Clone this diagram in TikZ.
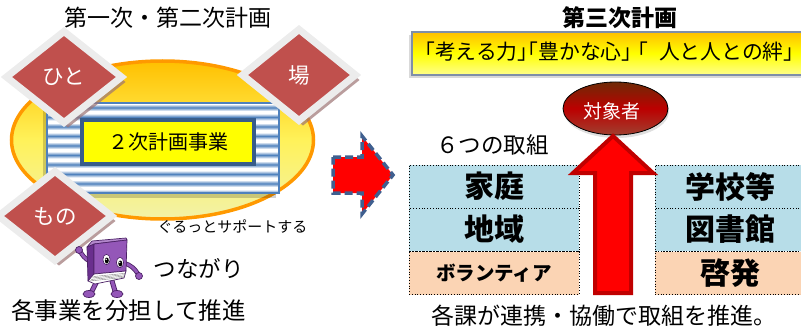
\documentclass[tikz,border=0pt]{standalone}
\usepackage{fontspec}
\setmainfont{Noto Sans CJK JP}
\usetikzlibrary{shapes.geometric,shadows}

\definecolor{gemred}{HTML}{C0504D}
\definecolor{gemrim}{HTML}{ECECEC}
\definecolor{gemshade}{HTML}{9C7474}
\definecolor{ringorange}{HTML}{FF9900}
\definecolor{goldtop}{HTML}{FFC000}
\definecolor{sunmid}{HTML}{FFF25A}
\definecolor{palebottom}{HTML}{F2F2A8}
\definecolor{stripeblue}{HTML}{4F81BD}
\definecolor{boxblue}{HTML}{385D8A}
\definecolor{pureyellow}{HTML}{FFFF00}
\definecolor{arrowred}{HTML}{FF0000}
\definecolor{arrowrim}{HTML}{C00000}
\definecolor{dashblue}{HTML}{3F5F8F}
\definecolor{rowblue}{HTML}{B7DDE8}
\definecolor{rowpeach}{HTML}{FBD4B4}
\definecolor{bannerrim}{HTML}{7F8FA9}
\definecolor{ovaltop}{HTML}{6E2A06}
\definecolor{ovalmid}{HTML}{BC0000}
\definecolor{ovalbottom}{HTML}{A04030}
\definecolor{bookpurple}{HTML}{9457B8}
\definecolor{bookdark}{HTML}{6A2F8E}
\definecolor{bookline}{HTML}{4B2165}

\begin{document}
\begin{tikzpicture}[x=1pt,y=-1pt,
  gem/.style={diamond, draw=gemrim, line width=7pt, fill=gemred, inner sep=0pt,
    text=white, font=\fontsize{21.5pt}{21.5pt}\selectfont,
    drop shadow={shadow xshift=4pt, shadow yshift=-5pt, fill=gemshade, opacity=0.7}},
  label/.style={inner sep=0pt, text=black},
  cell/.style={draw=black, dotted, line width=0.8pt, inner sep=0pt,
    minimum height=43pt, text=black},
  bigcell/.style={cell, font=\bfseries\fontsize{30pt}{30pt}\selectfont},
  leftcell/.style={minimum width=170pt},
  rightcell/.style={minimum width=150pt},
]
\useasboundingbox (0,0) rectangle (801,329);
\clip (0,0) rectangle (801,329);

% ---- first and second plan ----
\node[label, font=\fontsize{23pt}{23pt}\selectfont] (oldplans) at (167.5,18) {第一次・第二次計画};

% yellow ring
\path[draw=ringorange, line width=3.5pt, top color=goldtop, bottom color=palebottom,
      middle color=sunmid] (162.5,140) ellipse [x radius=151, y radius=79];

% striped panel
\fill[black, opacity=0.18] (43,107) rectangle (276,198);
\fill[white] (47,103) rectangle (279,193);
\begin{scope}
  \clip (47,103) rectangle (279,193);
  \foreach \k in {0,...,9} {
    \shade[top color=white, bottom color=white, middle color=stripeblue]
      (47,{103+\k*9.5+1}) rectangle (279,{103+\k*9.5+8});
  }
\end{scope}
\node[draw=stripeblue, line width=2pt, minimum width=232pt, minimum height=90pt,
      inner sep=0pt] (panel) at (163,148) {};

% project box
\node[draw=boxblue, line width=3.5pt, fill=pureyellow, minimum width=172pt,
      minimum height=44pt, inner sep=0pt, font=\fontsize{20pt}{20pt}\selectfont]
      (project) at (168,142) {２次計画事業};

% three diamonds
\node[gem, minimum width=118pt, minimum height=94pt] (hito) at (64,77) {ひと};
\node[gem, minimum width=116pt, minimum height=94pt] (ba) at (299,75) {場};
\node[gem, minimum width=116pt, minimum height=92pt] (mono) at (55,216) {もの};

\node[label, font=\fontsize{15pt}{15pt}\selectfont] (support) at (232.5,227) {ぐるっとサポートする};
\node[label, font=\fontsize{22.5pt}{22.5pt}\selectfont] (tsunagari) at (198.5,269) {つながり};
\node[label, font=\fontsize{23.5pt}{23.5pt}\selectfont] (share) at (128.5,311) {各事業を分担して推進};

% book mascot
\begin{scope}[line join=round, line cap=round]
  % arms
  \draw[bookline, line width=4.5pt] (91,262) .. controls (85,259) and (82,255) .. (80,251);
  \draw[bookpurple, line width=2.8pt] (91,262) .. controls (85,259) and (82,255) .. (80,251);
  \filldraw[fill=bookpurple, draw=bookline, line width=0.7pt] (79,250) circle (3.5);
  \draw[bookline, line width=4.5pt] (124,263) .. controls (131,265) and (135,269) .. (138,274);
  \draw[bookpurple, line width=2.8pt] (124,263) .. controls (131,265) and (135,269) .. (138,274);
  \filldraw[fill=bookpurple, draw=bookline, line width=0.7pt] (139,276) circle (3.5);
  % legs
  \draw[bookline, line width=5pt] (97,281) -- (92,291);
  \draw[bookpurple, line width=3.3pt] (97,281) -- (92,291);
  \draw[bookline, line width=5pt] (112,281) -- (115,291);
  \draw[bookpurple, line width=3.3pt] (112,281) -- (115,291);
  \filldraw[fill=bookpurple, draw=bookline, line width=0.7pt] (89,294) ellipse [x radius=6, y radius=3.5];
  \filldraw[fill=bookpurple, draw=bookline, line width=0.7pt] (117,294) ellipse [x radius=6, y radius=3.5];
  % spine, top edge and cover
  \filldraw[fill=bookdark, draw=bookline, line width=0.7pt]
    (87,247) -- (94,244) -- (94,276) -- (88,281) -- cycle;
  \filldraw[fill=bookpurple!70!white, draw=bookline, line width=0.7pt]
    (87,247) -- (92,241) -- (126,238) -- (127,240) -- (94,244) -- cycle;
  \filldraw[fill=bookpurple, draw=bookline, line width=0.7pt]
    (94,244) -- (127,240) -- (126,271) -- (94,274) -- cycle;
  % pages
  \filldraw[fill=white, draw=bookline, line width=0.7pt]
    (88,281) -- (94,274) -- (126,271) -- (124,278) -- (95,284) -- cycle;
  \foreach \d in {1.5,3,4.5,6} {
    \draw[gray, line width=0.4pt] (95-\d*0.9,275+\d) -- (125.5-\d*0.25,272+\d*0.9);
  }
  % eyes
  \filldraw[fill=white, draw=bookline, line width=0.6pt] (106.5,259.5) ellipse [x radius=3.6, y radius=5.2];
  \filldraw[fill=white, draw=bookline, line width=0.6pt] (120,262.5) ellipse [x radius=3.6, y radius=5.2];
  \fill[black] (106.8,260.5) ellipse [x radius=2, y radius=3];
  \fill[black] (120.3,263.5) ellipse [x radius=2, y radius=3];
  \fill[white] (106.2,259.3) circle (0.8);
  \fill[white] (119.7,262.3) circle (0.8);
\end{scope}

% transition arrow
\path[fill=arrowred, draw=dashblue, line width=3.5pt, dash pattern=on 8pt off 4pt,
      line join=miter]
  (333,157) -- (362,157) -- (362,136) -- (393,175) -- (362,214) -- (362,193) -- (333,193) -- cycle;

% ---- third plan ----
\node[label, font=\bfseries\fontsize{23pt}{23pt}\selectfont] (newplan) at (619.5,18) {第三次計画};

% motto banner
\fill[black, opacity=0.15] (409,35) rectangle (815,78);
\path[draw=bannerrim, line width=1.2pt, top color=goldtop, bottom color=pureyellow!45!white,
      middle color=pureyellow] (412,32) rectangle (815,75);
\node[label, anchor=west, font=\fontsize{20.8pt}{20.8pt}\selectfont] (motto) at (414,52)
  {「考える力」\kern-1em「豊かな心」\kern-0.7em「\kern0.5em人と人との絆\makebox[0.45em][l]{」}};

% target oval
\node[ellipse, draw=black, line width=0.8pt, minimum width=105pt, minimum height=53pt,
      inner sep=0pt, top color=ovaltop, bottom color=ovalbottom, middle color=ovalmid,
      drop shadow={shadow xshift=1pt, shadow yshift=-3pt, opacity=0.25}]
      (target) at (615.5,108.5) {};
\node[label, text=white, font=\fontsize{19pt}{19pt}\selectfont] (targettext) at (611.5,111.5) {対象者};

\node[label, font=\fontsize{22.5pt}{22.5pt}\selectfont] (six) at (492.5,145) {６つの取組};

% six areas
\node[bigcell, leftcell, fill=rowblue] (katei) at (494,186.5) {家庭};
\node[bigcell, leftcell, fill=rowblue] (chiiki) at (494,229.5) {地域};
\node[cell, leftcell, fill=rowpeach, font=\bfseries\fontsize{19.5pt}{19.5pt}\selectfont]
      (volunteer) at (494,273) {ボランティア};
\node[bigcell, rightcell, fill=rowblue] (school) at (730,186.5) {学校等};
\node[bigcell, rightcell, fill=rowblue] (library) at (730,229.5) {図書館};
\node[bigcell, rightcell, fill=rowpeach] (keihatsu) at (730,273) {啓発};

% upward arrow toward the target
\path[fill=arrowred, draw=arrowrim, line width=4pt, line join=miter]
  (613,136) -- (653,173) -- (631,173) -- (631,293) -- (595,293) -- (595,173) -- (573,173) -- cycle;

\node[label, anchor=west, font=\fontsize{23pt}{23pt}\selectfont] (together) at (431.5,316)
  {各課が連携・協働で取組を推進。};
\end{tikzpicture}
\end{document}
